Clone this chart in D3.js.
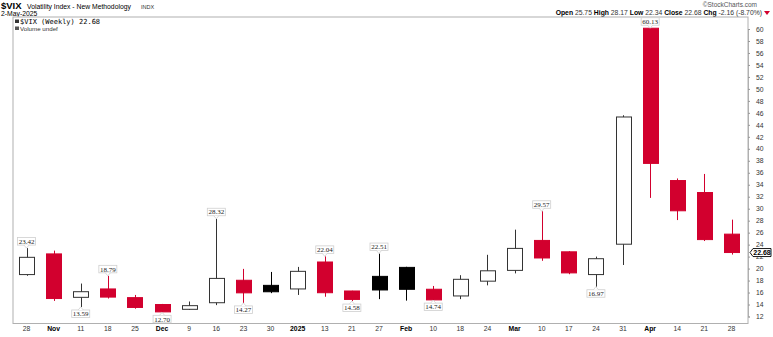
<!DOCTYPE html>
<html><head><meta charset="utf-8">
<script src="https://cdn.jsdelivr.net/npm/d3@7"></script>
<style>
html,body{margin:0;padding:0;background:#fff;}
svg{display:block;}
</style></head>
<body>
<svg id="c" width="773" height="337"></svg>
<script>
const weekLabels = ["28","Nov","11","18","25","Dec","9","16","23","30","2025","13","21","27","Feb","10","18","24","Mar","10","17","24","31","Apr","14","21","28"];
const opens  = [19.0,22.45,15.2,16.6,15.15,14.0,13.2,14.3,18.05,17.2,16.6,21.1,16.26,18.7,20.2,16.55,15.43,17.9,19.7,24.7,22.8,19.0,24.07,60.13,34.7,32.7,25.75];
const highs  = [23.42,23.0,17.5,18.79,15.6,14.1,14.5,28.32,19.95,19.44,20.28,22.04,16.3,22.51,20.3,17.1,18.9,22.3,26.5,29.57,22.9,22.0,45.6,60.13,35.05,35.8,28.17];
const lows   = [18.8,14.6,13.59,15.0,13.3,12.70,13.1,13.9,14.27,15.9,15.6,15.3,14.58,14.9,14.65,14.74,14.9,17.2,19.2,21.3,19.06,16.97,20.6,31.8,28.1,24.6,22.34];
const closes = [21.88,15.0,16.14,15.24,13.51,12.77,13.81,18.36,15.95,16.13,19.54,15.97,14.85,16.43,16.54,14.77,18.21,19.63,23.37,21.77,19.28,21.65,45.31,37.56,29.65,24.84,22.68];
const priorClose = 20.33;
const annotHigh = [0,3,7,11,13,19,23];
const annotLow = [2,5,8,12,15,21];
const yTicks = d3.range(12, 61, 2);
const lastClose = 22.68;

const svg = d3.select("#c");
const L = 13, R = 748, T = 17, B = 323.5;
const RED = "#d2002e";

const x = d3.scalePoint().domain(d3.range(weekLabels.length)).range([26.5, 731.5]);
const y = d3.scaleLinear().domain([12, 60]).range([316.5, 29]);
const bw = 15;

// header
const hdr = svg.append("g").attr("font-family", "Liberation Sans, Arial, sans-serif").attr("fill", "#000");
hdr.append("text").attr("x", 1).attr("y", 9).attr("font-size", 9.5).attr("font-weight", "bold").text("$VIX");
hdr.append("text").attr("x", 27).attr("y", 9).attr("font-size", 6.8).text("Volatility Index - New Methodology");
hdr.append("text").attr("x", 141).attr("y", 9).attr("font-size", 5.5).attr("fill", "#333").text("INDX");
hdr.append("text").attr("x", 1).attr("y", 15.5).attr("font-size", 6.8).text("2-May-2025");
hdr.append("text").attr("x", 757).attr("y", 6.5).attr("font-size", 6.5).attr("fill", "#555").attr("text-anchor", "end").text("©StockCharts.com");
const ohlc = hdr.append("text").attr("x", 762).attr("y", 14.5).attr("font-size", 6.8).attr("text-anchor", "end");
[["Open ", true], ["25.75 ", false], ["High ", true], ["28.17 ", false], ["Low ", true], ["22.34 ", false], ["Close ", true], ["22.68 ", false], ["Chg ", true], ["-2.16 (-8.70%)", false]]
  .forEach(([t, b]) => ohlc.append("tspan").attr("font-weight", b ? "bold" : "normal").attr("fill", b ? "#000" : "#333").text(t));
svg.append("path").attr("d", "M764,11 L770,11 L767,15 Z").attr("fill", RED);

// plot frame
svg.append("rect").attr("x", L).attr("y", T).attr("width", R - L).attr("height", B - T)
  .attr("fill", "#fff").attr("stroke", "#b0b0b0").attr("stroke-width", 1);

// legend inside
const lg = svg.append("g");
lg.append("rect").attr("x", 15).attr("y", 19.5).attr("width", 4).attr("height", 3.5).attr("fill", "#333");
lg.append("text").attr("x", 20).attr("y", 24).attr("font-family", "DejaVu Sans Mono, monospace").attr("font-size", 7).text("$VIX (Weekly) 22.68");
lg.append("rect").attr("x", 15).attr("y", 26.5).attr("width", 4).attr("height", 3.5).attr("fill", "#555");
lg.append("text").attr("x", 20).attr("y", 30.5).attr("font-family", "Liberation Sans, Arial, sans-serif").attr("font-size", 6.2).attr("fill", "#333").text("Volume undef");

// y axis
const ya = svg.append("g").attr("transform", `translate(${R},0)`)
  .call(d3.axisRight(y).tickValues(yTicks).tickSize(2).tickPadding(6).tickFormat(d3.format("d")));
ya.select(".domain").attr("stroke", "#b0b0b0");
ya.selectAll(".tick line").attr("stroke", "#999");
ya.selectAll("text").attr("font-family", "Liberation Sans, Arial, sans-serif").attr("font-size", 6.8).attr("fill", "#333");

// x labels
svg.append("g").selectAll("text").data(weekLabels).join("text")
  .attr("x", (d, i) => x(i)).attr("y", 331)
  .attr("text-anchor", "middle")
  .attr("font-family", "Liberation Sans, Arial, sans-serif")
  .attr("font-size", 6.8)
  .attr("font-weight", d => isNaN(+d) || d === "2025" ? "bold" : "normal")
  .attr("fill", d => isNaN(+d) || d === "2025" ? "#000" : "#333")
  .text(d => d);

// candles
const data = weekLabels.map((w, i) => {
  const prev = i === 0 ? priorClose : closes[i - 1];
  return { i, o: opens[i], h: highs[i], l: lows[i], c: closes[i], up: closes[i] >= prev, hollow: closes[i] >= opens[i] };
});
const col = d => d.up ? (d.hollow ? "#333" : "#000") : RED;
const cg = svg.append("g");
cg.selectAll("line").data(data).join("line")
  .attr("x1", d => Math.round(x(d.i)) + 0.5).attr("x2", d => Math.round(x(d.i)) + 0.5)
  .attr("y1", d => y(d.h)).attr("y2", d => y(d.l))
  .attr("stroke", col).attr("stroke-width", 1);
cg.selectAll("rect").data(data).join("rect")
  .attr("x", d => Math.round(x(d.i) - bw / 2) + 0.5)
  .attr("y", d => y(Math.max(d.o, d.c)))
  .attr("width", bw)
  .attr("height", d => Math.max(1, Math.abs(y(d.o) - y(d.c))))
  .attr("fill", d => d.hollow ? "#fff" : col(d))
  .attr("stroke", col).attr("stroke-width", 1);

// hi/lo annotations
function annot(i, isHigh) {
  const v = isHigh ? highs[i] : lows[i];
  const cx = x(i), py = y(v);
  const w = 18, h = 7.5;
  const by = isHigh ? py - 3 - h : py + 3;
  const g = svg.append("g");
  g.append("rect").attr("x", cx - w / 2).attr("y", by).attr("width", w).attr("height", h)
    .attr("fill", "#fff").attr("stroke", "#cfcfcf").attr("stroke-width", 0.8);
  const ty = isHigh ? by + h : by;
  g.append("path").attr("d", `M${cx - 2.5},${ty} L${cx},${py} L${cx + 2.5},${ty}`)
    .attr("fill", "#fff").attr("stroke", "#cfcfcf").attr("stroke-width", 0.8);
  g.append("text").attr("x", cx).attr("y", by + h - 1.3).attr("text-anchor", "middle")
    .attr("font-family", "Liberation Serif, Times New Roman, serif").attr("font-size", 7).attr("fill", "#222")
    .text(v.toFixed(2));
}
annotHigh.forEach(i => annot(i, true));
annotLow.forEach(i => annot(i, false));

// last price tag
const ly = y(lastClose);
svg.append("path").attr("d", `M${R + 2},${ly} L${R + 5},${ly - 4} L${R + 23},${ly - 4} L${R + 23},${ly + 4} L${R + 5},${ly + 4} Z`)
  .attr("fill", "#fff").attr("stroke", "#000").attr("stroke-width", 0.9);
svg.append("text").attr("x", R + 14).attr("y", ly + 2.6).attr("text-anchor", "middle")
  .attr("font-family", "Liberation Sans, Arial, sans-serif").attr("font-size", 7).attr("font-weight", "bold")
  .text(lastClose.toFixed(2));
</script>
</body></html>
